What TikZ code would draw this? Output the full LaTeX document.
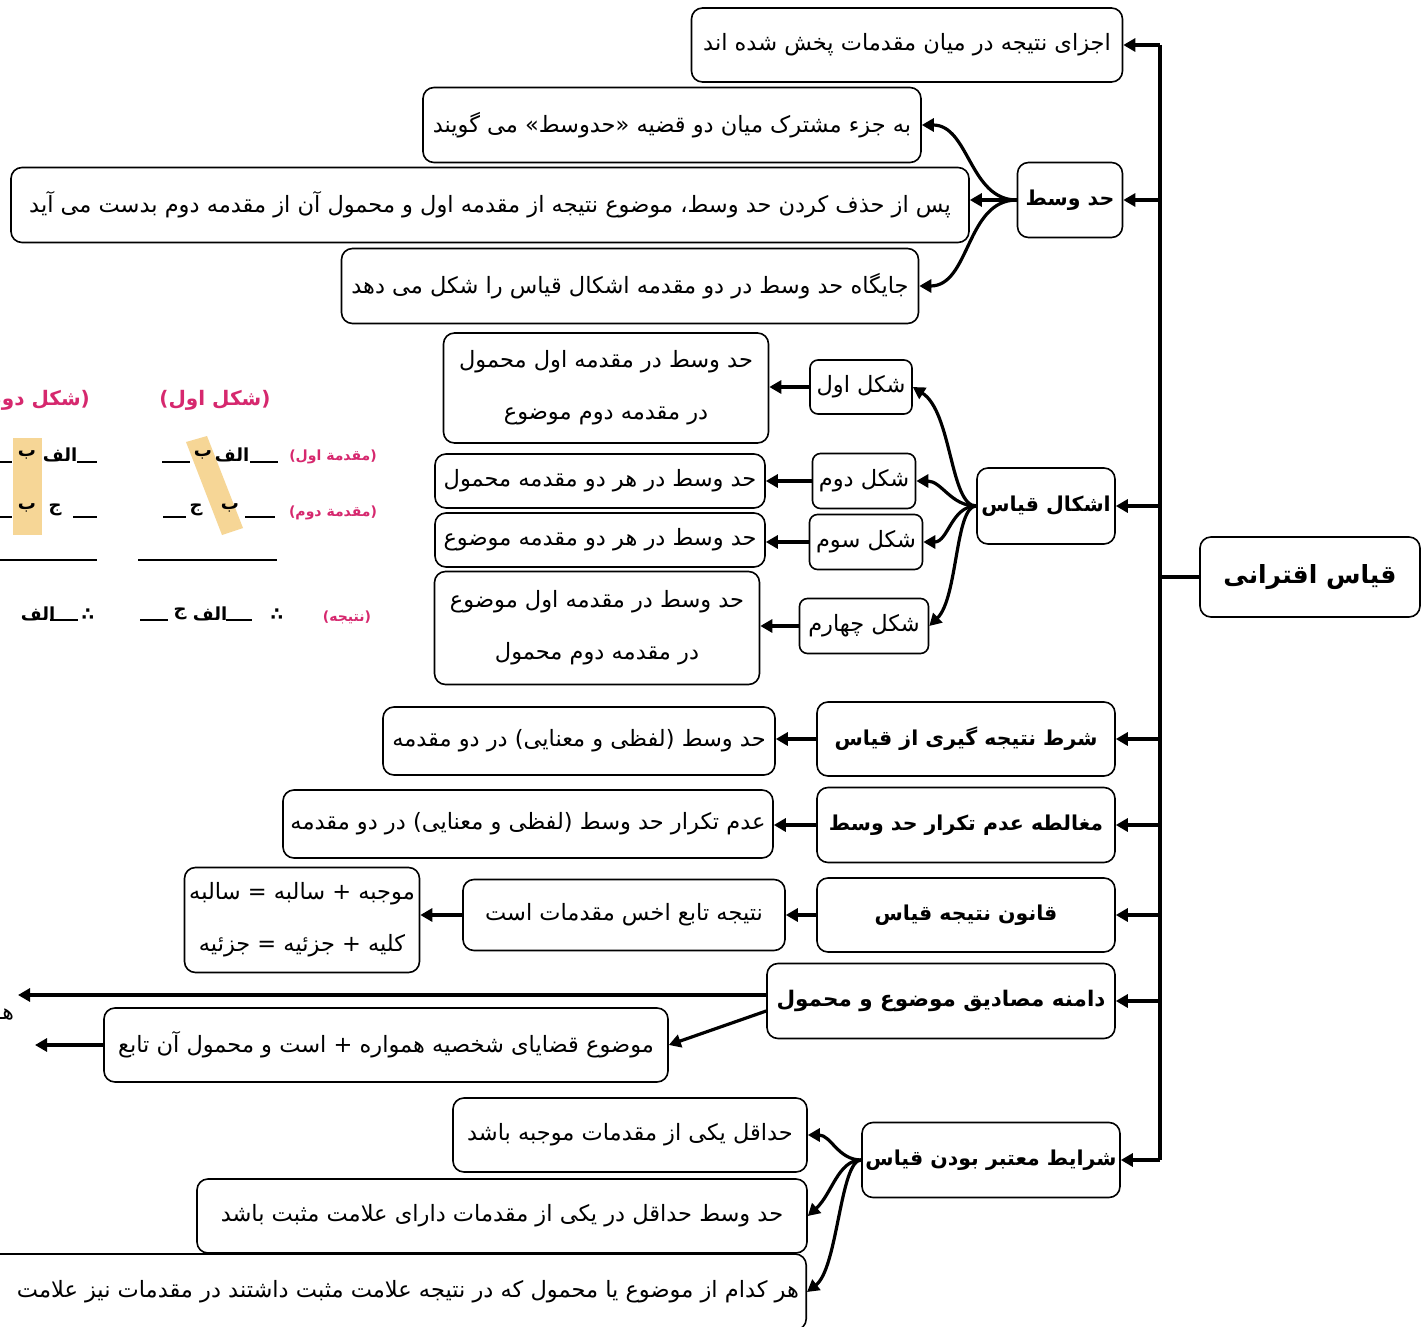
\documentclass[tikz,border=0pt]{standalone}
\usepackage{fontspec}
\setmainfont{DejaVu Sans}
\newfontfamily\fafont[Script=Arabic]{DejaVu Sans}
\TeXXeTstate=1
\usetikzlibrary{arrows.meta}
\newcommand\fa[1]{{\fafont\beginR #1\endR}}
\definecolor{pinkc}{RGB}{214,40,110}
\definecolor{bandc}{RGB}{246,214,150}
\begin{document}
\begin{tikzpicture}[x=1pt,y=-1pt,
  box/.style={draw,line width=1.6pt,rounded corners=11pt,inner sep=2pt,font=\fontsize{22.5}{26}\selectfont},
  bbox/.style={box,font=\fontsize{20.5}{25}\selectfont\bfseries},
  sbox/.style={box,rounded corners=8pt},
  twoline/.style={box,align=center,font=\fontsize{22.5}{52}\selectfont},
  arr/.style={line width=3.2pt,-{Triangle[length=12pt,width=13pt]}},
  ln/.style={line width=3.2pt},
  lab/.style={text=pinkc,inner sep=0pt,font=\fontsize{20}{24}\selectfont\bfseries},
  slab/.style={text=pinkc,inner sep=0pt,font=\fontsize{14}{17}\selectfont\bfseries},
  let/.style={inner sep=0pt,font=\fontsize{18}{21}\selectfont\bfseries},
  dl/.style={line width=1.8pt},
]
\useasboundingbox (0,0) rectangle (1428,1327);
\clip (0,0) rectangle (1428,1327);
\fill[white] (0,0) rectangle (1428,1327);

% ---------- textbook figure (left) ----------
\fill[bandc] (186,442) -- (207,436) -- (243,528) -- (222,535) -- cycle;
\fill[bandc] (13,438) rectangle (42,535);
\node[lab] (l1) at (215,400) {\fa{(شکل اول)}};
\node[lab,anchor=east] (l2) at (90,400) {\fa{(شکل دوم)}};
\node[slab] (m1) at (333,457) {\fa{(مقدمة اول)}};
\node[slab] (m2) at (333,513) {\fa{(مقدمة دوم)}};
\node[slab] (n1) at (347,617) {\fa{(نتیجه)}};
% figure 1
\node[let] (f1a) at (232,455) {\fa{الف}};
\node[let] (f1b) at (203,455) {\fa{ب}};
\draw[dl] (250,462) -- (278,462); \draw[dl] (162,462) -- (190,462);
\node[let] (f1c) at (196,510) {\fa{ج}};
\node[let] (f1d) at (230,508) {\fa{ب}};
\draw[dl] (163,517) -- (186,517); \draw[dl] (245,517) -- (275,517);
\draw[line width=2.5pt] (138,560) -- (277,560);
\node[let] (f1e) at (277,615) {∴};
\node[let] (f1f) at (210,614) {\fa{الف}};
\node[let] (f1g) at (180,614) {\fa{ج}};
\draw[dl] (226,620) -- (252,620); \draw[dl] (140,620) -- (168,620);
% figure 2
\node[let] (f2a) at (60,455) {\fa{الف}};
\node[let] (f2b) at (27,455) {\fa{ب}};
\draw[dl] (77,462) -- (97,462); \draw[dl] (0,462) -- (12,462);
\node[let] (f2c) at (55,510) {\fa{ج}};
\node[let] (f2d) at (27,508) {\fa{ب}};
\draw[dl] (73,517) -- (97,517); \draw[dl] (0,517) -- (12,517);
\draw[line width=2.5pt] (0,560) -- (97,560);
\node[let] (f2e) at (88,615) {∴};
\node[let] (f2f) at (38,614) {\fa{الف}};
\draw[dl] (50,620) -- (78,620);

% ---------- root and main branches ----------
\node[box,font=\fontsize{25}{30}\selectfont\bfseries,minimum width=220,minimum height=80] (R) at (1310,577) {\fa{قیاس اقترانی}};

\node[box,minimum width=431,minimum height=74] (A) at (907,45) {\fa{اجزای نتیجه در میان مقدمات پخش شده اند}};

\node[bbox,minimum width=105,minimum height=75] (B) at (1070,200) {\fa{حد وسط}};
\node[box,minimum width=498,minimum height=75] (B1) at (672,125) {\fa{به جزء مشترک میان دو قضیه «حدوسط» می گویند}};
\node[box,minimum width=958,minimum height=75] (B2) at (490,205) {\fa{پس از حذف کردن حد وسط، موضوع نتیجه از مقدمه اول و محمول آن از مقدمه دوم بدست می آید}};
\node[box,minimum width=577,minimum height=75] (B3) at (630,286) {\fa{جایگاه حد وسط در دو مقدمه اشکال قیاس را شکل می دهد}};

\node[bbox,minimum width=138,minimum height=76] (C) at (1046,506) {\fa{اشکال قیاس}};
\node[sbox,minimum width=102,minimum height=54] (C1) at (861,387) {\fa{شکل اول}};
\node[twoline,minimum width=325,minimum height=110] (C1a) at (606,388) {\fa{حد وسط در مقدمه اول محمول}\\\fa{در مقدمه دوم موضوع}};
\node[sbox,minimum width=103,minimum height=55] (C2) at (864,481) {\fa{شکل دوم}};
\node[box,minimum width=330,minimum height=54] (C2a) at (600,481) {\fa{حد وسط در هر دو مقدمه محمول}};
\node[sbox,minimum width=113,minimum height=55] (C3) at (866,542) {\fa{شکل سوم}};
\node[box,minimum width=330,minimum height=54] (C3a) at (600,540) {\fa{حد وسط در هر دو مقدمه موضوع}};
\node[sbox,minimum width=129,minimum height=55] (C4) at (864,626) {\fa{شکل چهارم}};
\node[twoline,minimum width=325,minimum height=113] (C4a) at (597,628) {\fa{حد وسط در مقدمه اول موضوع}\\\fa{در مقدمه دوم محمول}};

\node[bbox,minimum width=298,minimum height=74] (D) at (966,739) {\fa{شرط نتیجه گیری از قیاس}};
\node[box,minimum width=392,minimum height=68] (D1) at (579,741) {\fa{حد وسط (لفظی و معنایی) در دو مقدمه}};

\node[bbox,minimum width=298,minimum height=75] (E) at (966,825) {\fa{مغالطه عدم تکرار حد وسط}};
\node[box,minimum width=490,minimum height=68] (E1) at (528,824) {\fa{عدم تکرار حد وسط (لفظی و معنایی) در دو مقدمه}};

\node[bbox,minimum width=298,minimum height=74] (F) at (966,915) {\fa{قانون نتیجه قیاس}};
\node[box,minimum width=322,minimum height=71] (F1) at (624,915) {\fa{نتیجه تابع اخس مقدمات است}};
\node[twoline,minimum width=235,minimum height=105] (F2) at (302,920) {\fa{موجبه + سالبه = سالبه}\\\fa{کلیه + جزئیه = جزئیه}};

\node[bbox,font=\fontsize{21.5}{26}\selectfont\bfseries,minimum width=348,minimum height=75] (G) at (941,1001) {\fa{دامنه مصادیق موضوع و محمول}};
\node[box,minimum width=564,minimum height=74] (G1) at (386,1045) {\fa{موضوع قضایای شخصیه همواره + است و محمول آن تابع}};
\node[inner sep=0pt,font=\fontsize{22}{26}\selectfont] (cut) at (5,1014) {\fa{هـ}};
\coordinate (Gend) at (18,995);
\coordinate (G1end) at (35,1045);

\node[bbox,minimum width=258,minimum height=75] (H) at (991,1160) {\fa{شرایط معتبر بودن قیاس}};
\node[box,minimum width=354,minimum height=74] (H1) at (630,1135) {\fa{حداقل یکی از مقدمات موجبه باشد}};
\node[box,minimum width=610,minimum height=74] (H2) at (502,1216) {\fa{حد وسط حداقل در یکی از مقدمات دارای علامت مثبت باشد}};
\node[box,anchor=east,minimum width=900,minimum height=76] (H3) at (807,1292) {};
\node[inner sep=0pt,anchor=east,font=\fontsize{22.5}{26}\selectfont] (H3t) at (799,1292) {\fa{هر کدام از موضوع یا محمول که در نتیجه علامت مثبت داشتند در مقدمات نیز علامت}};

% ---------- trunk ----------
\coordinate (T) at (1160,0);
\draw[ln] (A.east -| T) -- (H.east -| T);
\draw[ln] (R.west) -- (R.west -| T);
\foreach \n in {A,B,C,D,E,F,G,H} \draw[arr] (\n.east -| T) -- (\n.east);

% ---------- sub connectors ----------
\draw[arr] (B.west) to[out=180,in=0] (B1.east);
\draw[arr] (B.west) -- (B.west -| B2.east);
\draw[arr] (B.west) to[out=180,in=0] (B3.east);

\draw[arr] (C.west) .. controls (950,506) and (952,412) .. (C1.east);
\draw[arr] (C.west) to[out=180,in=0] (C2.east);
\draw[arr] (C.west) to[out=180,in=0] (C3.east);
\draw[arr] (C.west) .. controls (955,506) and (958,598) .. (C4.east);

\draw[arr] (C1.west) -- (C1.west -| C1a.east);
\draw[arr] (C2.west) -- (C2.west -| C2a.east);
\draw[arr] (C3.west) -- (C3.west -| C3a.east);
\draw[arr] (C4.west) -- (C4.west -| C4a.east);
\draw[arr] (D.west) -- (D.west -| D1.east);
\draw[arr] (E.west) -- (E.west -| E1.east);
\draw[arr] (F.west) -- (F.west -| F1.east);
\draw[arr] (F1.west) -- (F1.west -| F2.east);

\draw[arr] (G.west |- Gend) -- (Gend);
\draw[arr] ([yshift=-10pt]G.west) -- (G1.east);
\draw[arr] (G1.west) -- (G1end);

\draw[arr] (H.west) to[out=180,in=0] (H1.east);
\draw[arr] (H.west) .. controls (838,1160) and (832,1194) .. (H2.east);
\draw[arr] (H.west) .. controls (840,1160) and (838,1268) .. (H3.east);
\end{tikzpicture}
\end{document}
